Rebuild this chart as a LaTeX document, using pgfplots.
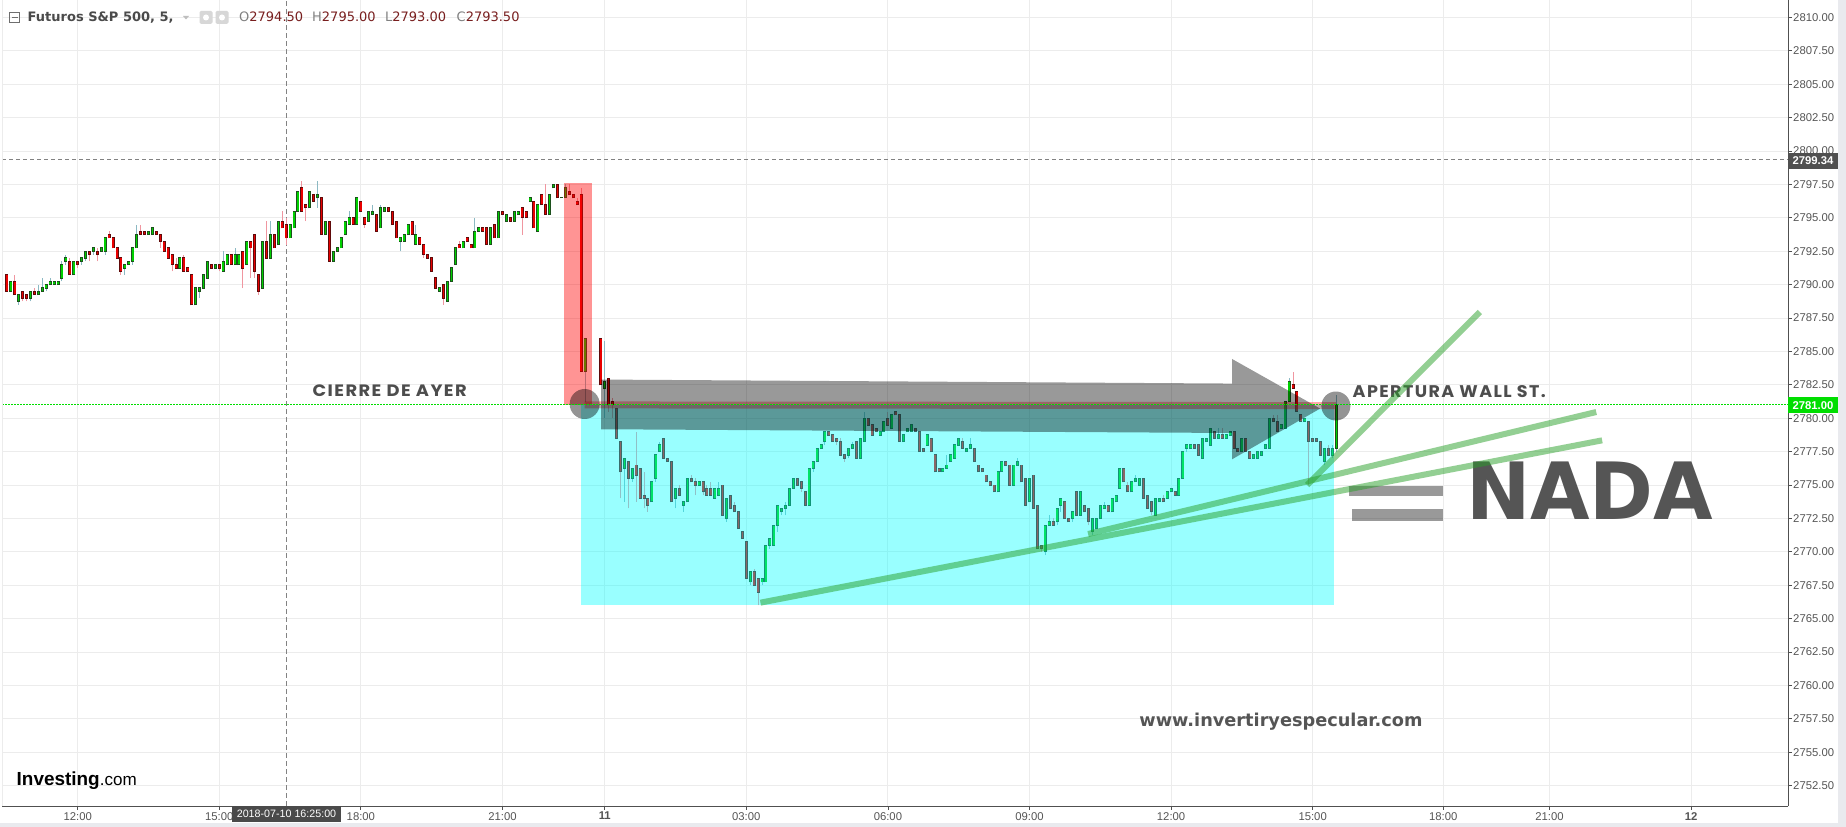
\documentclass[border=0pt]{standalone}
\usepackage{fontspec}
\setmainfont{Liberation Sans}
\newfontfamily\dejavu{DejaVu Sans}
\newfontfamily\popfont[LetterSpace=8]{Poppins}
\usepackage{pgfplots}
\usepackage{pgfplotstable}
\pgfplotsset{compat=1.18}
\definecolor{gridc}{RGB}{236,236,236}
\definecolor{axisc}{RGB}{80,80,80}
\definecolor{labc}{RGB}{85,85,85}
\definecolor{upfill}{RGB}{0,208,0}
\definecolor{upline}{RGB}{28,80,28}
\definecolor{upwick}{RGB}{140,185,195}
\definecolor{dnfill}{RGB}{232,0,0}
\definecolor{dnline}{RGB}{95,10,10}
\definecolor{dnwick}{RGB}{240,150,160}
\definecolor{trend}{RGB}{40,160,40}
\definecolor{lastg}{RGB}{0,222,0}
\definecolor{txtc}{RGB}{77,77,77}
\definecolor{nadac}{RGB}{85,85,85}
\definecolor{strip}{RGB}{233,234,238}
\definecolor{ohlc}{RGB}{120,30,30}
\definecolor{boxdark}{RGB}{80,80,80}
\definecolor{datebox}{RGB}{74,74,74}
\definecolor{iconc}{RGB}{110,110,110}
\definecolor{headc}{RGB}{74,74,74}
\definecolor{lightic}{RGB}{215,215,215}
\definecolor{triac}{RGB}{190,190,190}
\definecolor{wmark}{RGB}{85,85,85}
\definecolor{cyanov}{RGB}{0,255,255}
\definecolor{redov}{RGB}{255,0,0}
\definecolor{blk}{RGB}{0,0,0}
\definecolor{crossc}{RGB}{130,130,130}

\pgfplotstableread{
x o h l c
-18 2790.75 2790.75 2789.50 2789.50
-17 2789.50 2790.25 2789.50 2790.25
-16 2790.25 2790.75 2789.25 2789.25
-15 2788.75 2789.25 2788.50 2789.25
-14 2789.50 2789.50 2788.75 2789.00
-13 2789.25 2789.25 2788.75 2789.00
-12 2789.00 2789.50 2788.75 2789.50
-11 2789.50 2789.75 2789.25 2789.25
-10 2789.25 2790.00 2789.25 2789.50
-9 2789.50 2790.50 2789.50 2789.75
-8 2789.75 2790.00 2789.50 2790.00
-7 2790.00 2790.50 2790.00 2790.25
-6 2790.00 2790.25 2790.00 2790.25
-5 2790.00 2790.25 2790.00 2790.25
-4 2790.50 2791.75 2790.25 2791.50
-3 2791.75 2792.25 2791.50 2792.00
-2 2791.75 2792.00 2790.75 2790.75
-1 2790.75 2791.75 2790.75 2791.75
0 2791.75 2791.75 2791.25 2791.50
1 2791.75 2792.00 2791.50 2792.00
2 2792.00 2792.50 2791.75 2792.50
3 2792.50 2792.50 2791.75 2792.25
4 2792.50 2792.75 2792.25 2792.75
5 2792.50 2792.75 2791.75 2792.25
6 2792.50 2792.75 2792.50 2792.75
7 2792.50 2793.50 2792.25 2793.50
8 2793.75 2794.00 2793.50 2793.50
9 2793.50 2793.50 2792.75 2792.75
10 2792.75 2792.75 2792.00 2792.00
11 2792.00 2792.00 2790.75 2791.00
12 2791.25 2791.50 2790.75 2791.50
13 2791.50 2791.75 2791.50 2791.75
14 2791.75 2792.75 2791.50 2792.75
15 2792.75 2794.50 2792.75 2793.75
16 2794.00 2794.50 2793.75 2793.75
17 2794.00 2794.00 2793.75 2793.75
18 2793.75 2794.00 2793.75 2794.00
19 2793.75 2794.25 2793.75 2794.25
20 2794.00 2794.00 2793.75 2793.75
21 2793.75 2793.75 2792.75 2793.25
22 2793.25 2793.25 2792.50 2792.50
23 2792.75 2792.75 2792.00 2792.00
24 2792.25 2792.25 2791.00 2791.50
25 2791.50 2792.00 2791.25 2791.25
26 2791.25 2792.00 2791.25 2792.00
27 2792.00 2792.25 2791.00 2791.00
28 2791.25 2791.25 2791.00 2791.00
29 2790.75 2790.75 2788.50 2788.50
30 2788.50 2789.75 2788.50 2789.75
31 2789.50 2789.75 2789.00 2789.75
32 2789.75 2790.75 2789.75 2790.75
33 2790.50 2791.75 2790.50 2791.75
34 2791.50 2791.50 2791.25 2791.25
35 2791.25 2791.50 2791.25 2791.50
36 2791.50 2791.50 2791.00 2791.25
37 2791.00 2792.50 2791.00 2791.75
38 2791.50 2792.25 2791.50 2792.25
39 2792.25 2792.25 2791.50 2791.50
40 2791.50 2792.75 2791.50 2792.25
41 2791.50 2792.25 2791.50 2792.25
42 2792.50 2792.50 2789.75 2791.25
43 2791.50 2793.25 2791.50 2793.25
44 2793.25 2793.25 2790.50 2792.75
45 2793.75 2793.75 2790.50 2791.00
46 2790.75 2790.75 2789.25 2789.50
47 2789.75 2793.25 2789.75 2793.25
48 2793.25 2794.75 2792.00 2792.00
49 2792.00 2794.75 2792.00 2793.75
50 2793.75 2793.75 2792.75 2792.75
51 2793.00 2794.75 2793.00 2794.75
52 2794.75 2795.50 2794.25 2794.25
53 2794.50 2795.00 2793.00 2793.50
54 2793.50 2794.50 2793.50 2794.50
55 2794.25 2795.50 2794.25 2795.50
56 2795.50 2797.00 2795.50 2797.00
57 2797.25 2797.75 2795.50 2795.50
58 2796.00 2796.00 2794.75 2795.75
59 2795.75 2797.00 2795.75 2797.00
60 2796.75 2796.75 2796.25 2796.25
61 2796.50 2797.75 2795.75 2796.75
62 2796.50 2796.50 2793.75 2793.75
63 2793.75 2794.75 2793.75 2794.75
64 2794.75 2794.75 2791.75 2791.75
65 2791.75 2792.50 2791.75 2792.50
66 2792.50 2792.75 2792.50 2792.75
67 2792.75 2793.50 2792.75 2793.50
68 2793.75 2794.75 2793.75 2794.75
69 2794.50 2795.50 2794.50 2795.00
70 2795.00 2795.00 2794.50 2794.50
71 2794.50 2796.50 2794.50 2796.50
72 2796.25 2796.25 2795.50 2795.50
73 2795.00 2795.00 2794.25 2794.50
74 2794.75 2795.50 2794.75 2795.50
75 2795.25 2796.00 2795.25 2795.50
76 2795.25 2795.25 2794.00 2794.00
77 2794.25 2796.00 2794.25 2795.75
78 2795.50 2795.75 2795.50 2795.75
79 2795.75 2795.75 2795.50 2795.50
80 2795.50 2795.50 2794.50 2794.50
81 2794.75 2794.75 2793.50 2793.50
82 2793.25 2793.50 2792.50 2793.50
83 2793.25 2793.75 2793.25 2793.75
84 2793.75 2794.50 2793.75 2794.50
85 2794.75 2794.75 2793.75 2793.75
86 2793.00 2794.50 2793.00 2793.75
87 2793.50 2793.50 2793.00 2793.00
88 2793.00 2793.00 2792.00 2792.25
89 2792.25 2792.25 2792.00 2792.00
90 2792.00 2792.00 2791.00 2791.00
91 2790.50 2790.50 2789.75 2789.75
92 2789.50 2789.75 2789.50 2789.75
93 2790.00 2790.00 2788.50 2789.00
94 2788.75 2790.25 2788.75 2790.25
95 2790.25 2791.25 2790.25 2791.25
96 2791.50 2792.75 2791.50 2792.75
97 2793.00 2793.25 2792.75 2792.75
98 2792.75 2793.25 2792.75 2793.25
99 2793.50 2793.50 2793.25 2793.25
100 2793.00 2793.00 2792.75 2792.75
101 2792.75 2795.00 2792.75 2794.00
102 2794.00 2794.25 2794.00 2794.25
103 2794.25 2794.25 2794.00 2794.00
104 2794.25 2794.25 2793.00 2793.00
105 2793.00 2794.25 2793.00 2794.25
106 2794.50 2794.50 2793.50 2793.50
107 2793.50 2795.50 2793.50 2795.50
108 2795.50 2795.50 2795.25 2795.25
109 2794.75 2795.25 2794.75 2795.25
110 2795.00 2795.00 2794.75 2794.75
111 2794.75 2795.50 2794.75 2795.50
112 2795.25 2795.50 2795.25 2795.50
113 2795.75 2795.75 2793.75 2795.00
114 2795.50 2795.50 2795.00 2795.00
115 2796.25 2796.50 2796.25 2796.50
116 2796.25 2796.25 2794.25 2794.25
117 2794.00 2796.00 2794.00 2796.00
118 2796.75 2796.75 2796.00 2796.00
119 2796.00 2797.50 2795.25 2795.25
120 2795.25 2796.75 2795.25 2796.75
121 2797.25 2797.50 2797.25 2797.50
122 2797.50 2797.50 2796.50 2796.50
123 2796.50 2796.50 2796.50 2796.50
124 2796.50 2797.50 2796.50 2797.25
125 2797.00 2797.50 2796.75 2796.75
126 2796.75 2796.75 2796.50 2796.50
127 2796.25 2796.50 2796.00 2796.00
128 2796.75 2797.25 2783.50 2783.50
129 2783.50 2786.00 2781.25 2786.00
133 2786.00 2786.00 2782.50 2782.50
134 2782.25 2785.75 2780.00 2782.75
135 2783.00 2783.00 2780.50 2781.00
136 2781.25 2781.50 2780.00 2781.00
137 2780.75 2780.75 2778.50 2778.50
138 2778.25 2778.25 2774.00 2776.00
139 2776.25 2777.00 2773.75 2777.00
140 2776.75 2776.75 2773.25 2775.50
141 2775.50 2776.25 2775.25 2776.25
142 2776.50 2779.00 2773.75 2775.75
143 2776.25 2776.25 2774.00 2774.00
144 2774.25 2776.00 2773.25 2774.00
145 2774.00 2774.00 2773.00 2773.50
146 2773.75 2775.25 2773.75 2775.25
147 2775.50 2777.25 2775.25 2777.25
148 2777.50 2778.25 2777.50 2778.00
149 2778.50 2778.50 2777.00 2777.00
150 2777.00 2777.00 2776.75 2776.75
151 2776.75 2776.75 2773.75 2773.75
152 2774.00 2774.75 2773.25 2774.75
153 2774.75 2775.00 2774.25 2774.25
154 2773.50 2773.75 2773.00 2773.75
155 2773.75 2775.50 2773.75 2775.50
156 2775.50 2775.75 2775.25 2775.25
157 2775.25 2775.50 2774.25 2775.00
158 2775.00 2775.25 2775.00 2775.25
159 2775.25 2775.25 2774.25 2774.50
160 2774.75 2775.00 2774.25 2774.25
161 2774.75 2775.25 2774.25 2774.25
162 2774.00 2774.75 2774.00 2774.75
163 2774.25 2775.25 2774.25 2774.75
164 2775.00 2775.00 2772.75 2772.75
165 2772.50 2774.00 2772.25 2774.00
166 2774.25 2774.25 2773.25 2773.25
167 2773.50 2773.75 2773.00 2773.00
168 2773.00 2773.00 2771.75 2771.75
169 2771.50 2771.50 2771.00 2771.00
170 2770.75 2770.75 2768.00 2768.00
171 2767.75 2768.50 2767.50 2768.50
172 2768.50 2768.75 2767.50 2767.50
173 2768.00 2768.00 2766.00 2767.00
174 2767.75 2768.00 2767.50 2768.00
175 2767.75 2770.50 2767.75 2770.50
176 2770.50 2771.00 2770.25 2771.00
177 2770.50 2772.00 2770.50 2772.00
178 2772.00 2773.50 2771.50 2773.50
179 2773.00 2773.25 2772.75 2773.25
180 2773.25 2773.75 2772.75 2773.50
181 2773.50 2774.75 2773.50 2774.75
182 2774.75 2775.50 2774.75 2775.50
183 2775.50 2775.50 2775.00 2775.00
184 2775.25 2775.25 2774.50 2774.75
185 2774.50 2774.50 2773.50 2773.50
186 2773.50 2776.25 2773.50 2776.25
187 2776.25 2776.75 2776.00 2776.75
188 2776.75 2777.75 2776.75 2777.75
189 2777.75 2778.00 2777.75 2778.00
190 2778.25 2779.00 2778.00 2779.00
191 2779.00 2779.00 2778.75 2778.75
192 2778.75 2778.75 2778.25 2778.25
193 2778.50 2778.50 2778.00 2778.25
194 2778.25 2778.50 2777.25 2777.25
195 2777.25 2777.25 2776.75 2777.00
196 2777.25 2777.75 2777.00 2777.75
197 2777.75 2778.25 2777.75 2778.00
198 2778.25 2778.25 2777.00 2777.00
199 2777.00 2778.50 2777.00 2778.50
200 2778.25 2780.50 2778.25 2780.00
201 2780.00 2780.00 2779.50 2779.50
202 2779.50 2779.50 2778.75 2778.75
203 2779.25 2779.25 2779.00 2779.00
204 2778.75 2779.00 2778.75 2779.00
205 2779.00 2779.75 2779.00 2779.75
206 2780.00 2780.50 2779.50 2779.50
207 2779.25 2780.25 2779.25 2780.25
208 2780.50 2780.50 2780.25 2780.25
209 2780.25 2780.25 2778.25 2778.25
210 2778.25 2778.75 2778.25 2778.75
211 2779.00 2779.25 2779.00 2779.25
212 2779.00 2779.50 2779.00 2779.50
213 2779.25 2779.25 2779.00 2779.00
214 2779.00 2779.00 2777.50 2777.50
215 2777.75 2777.75 2777.50 2777.50
216 2778.00 2778.75 2778.00 2778.75
217 2778.50 2778.50 2777.50 2777.50
218 2777.25 2777.25 2776.00 2776.00
219 2776.25 2776.25 2776.00 2776.00
220 2776.00 2776.25 2776.00 2776.25
221 2776.25 2777.25 2776.25 2776.50
222 2776.75 2777.25 2776.75 2777.25
223 2777.00 2778.00 2777.00 2778.00
224 2778.00 2778.50 2778.00 2778.50
225 2778.25 2778.50 2777.75 2777.75
226 2777.50 2777.75 2777.50 2777.75
227 2777.75 2778.50 2777.75 2778.00
228 2777.75 2777.75 2776.75 2776.75
229 2776.50 2776.50 2776.00 2776.00
230 2776.25 2776.25 2776.00 2776.00
231 2775.75 2775.75 2775.25 2775.25
232 2775.25 2775.25 2775.00 2775.00
233 2775.00 2775.00 2774.50 2774.50
234 2774.50 2776.00 2774.50 2776.00
235 2776.00 2776.75 2776.00 2776.75
236 2776.75 2776.75 2776.50 2776.50
237 2776.50 2776.50 2775.00 2775.00
238 2775.00 2776.50 2775.00 2776.50
239 2776.50 2777.00 2776.50 2776.75
240 2776.50 2776.50 2775.25 2775.25
241 2775.50 2775.50 2773.50 2773.50
242 2773.75 2775.50 2773.75 2775.50
243 2775.75 2775.75 2773.25 2773.25
244 2773.50 2773.50 2770.25 2770.25
245 2770.50 2770.50 2770.00 2770.25
246 2770.00 2772.00 2769.75 2772.00
247 2772.00 2772.75 2772.00 2772.25
248 2772.25 2772.50 2772.00 2772.00
249 2772.25 2773.25 2772.00 2773.25
250 2773.50 2774.00 2773.00 2774.00
251 2773.75 2773.75 2772.50 2772.50
252 2772.50 2772.50 2772.25 2772.25
253 2772.50 2773.00 2772.25 2773.00
254 2774.50 2774.50 2772.75 2772.75
255 2772.75 2774.50 2772.75 2774.50
256 2773.50 2773.50 2773.00 2773.00
257 2773.25 2773.25 2772.00 2772.25
258 2771.50 2772.50 2771.25 2772.50
259 2771.75 2772.50 2771.75 2772.50
260 2772.50 2773.50 2772.50 2773.50
261 2773.25 2773.75 2773.25 2773.50
262 2773.50 2773.50 2773.00 2773.00
263 2773.00 2774.00 2773.00 2774.00
264 2773.75 2774.25 2773.75 2774.25
265 2774.75 2776.25 2774.75 2776.25
266 2776.25 2776.25 2775.25 2775.25
267 2775.00 2775.25 2774.50 2774.50
268 2774.50 2775.25 2774.50 2775.25
269 2775.25 2775.75 2775.25 2775.50
270 2775.00 2775.50 2775.00 2775.50
271 2775.50 2775.50 2774.00 2774.00
272 2774.25 2774.25 2773.25 2773.25
273 2773.75 2773.75 2772.75 2773.00
274 2772.75 2774.00 2772.75 2774.00
275 2773.75 2774.00 2773.75 2774.00
276 2774.00 2774.25 2773.75 2773.75
277 2774.00 2774.50 2774.00 2774.50
278 2774.50 2774.75 2774.50 2774.75
279 2774.50 2774.50 2774.25 2774.25
280 2774.25 2775.50 2774.25 2775.50
281 2775.50 2777.50 2775.50 2777.50
282 2777.75 2778.00 2777.50 2778.00
283 2777.75 2778.00 2777.75 2778.00
284 2778.00 2778.00 2777.75 2777.75
285 2778.00 2778.00 2777.25 2777.25
286 2777.00 2778.50 2777.00 2778.50
287 2778.25 2778.50 2778.25 2778.50
288 2778.00 2779.25 2778.00 2779.25
289 2779.00 2779.00 2778.50 2778.50
290 2778.50 2779.25 2778.50 2778.75
291 2778.75 2779.25 2778.50 2778.50
292 2778.50 2778.75 2778.50 2778.75
293 2778.75 2779.00 2778.75 2779.00
294 2779.00 2779.00 2777.75 2777.75
295 2777.75 2777.75 2777.50 2777.50
296 2777.50 2778.50 2777.50 2778.50
297 2778.50 2778.50 2777.50 2777.50
298 2777.50 2777.50 2777.00 2777.00
299 2777.00 2777.25 2777.00 2777.25
300 2777.00 2777.50 2777.00 2777.50
301 2777.25 2777.50 2777.25 2777.50
302 2777.75 2778.00 2777.75 2778.00
303 2777.75 2780.00 2777.75 2780.00
304 2780.00 2780.25 2779.75 2779.75
305 2779.75 2780.25 2779.00 2779.00
306 2779.25 2779.50 2779.25 2779.50
307 2779.25 2781.25 2779.25 2781.25
308 2781.25 2783.00 2781.25 2782.75
309 2782.50 2783.50 2782.25 2782.25
310 2782.00 2782.00 2780.50 2780.50
311 2780.25 2780.25 2779.75 2779.75
312 2779.75 2780.00 2779.75 2780.00
313 2779.75 2779.75 2775.00 2778.25
314 2778.50 2778.50 2778.25 2778.25
315 2778.50 2778.50 2778.25 2778.25
316 2778.25 2778.25 2777.25 2777.25
317 2776.75 2777.75 2776.50 2777.75
318 2777.75 2778.00 2777.25 2777.25
319 2777.25 2778.00 2777.00 2777.75
320 2777.75 2781.75 2777.50 2781.00
}\candles

\begin{document}
\begin{tikzpicture}
% background
\fill[white] (0,0) rectangle (1846bp,827bp);
\fill[strip] (1838bp,0) rectangle (1846bp,827bp);
\fill[strip] (0,0) rectangle (1846bp,4bp);

\begin{axis}[
  at={(2bp,21bp)}, anchor=south west,
  scale only axis, width=1786bp, height=806bp,
  xmin=-19.247, xmax=434.86, ymin=2750.98, ymax=2811.31,
  axis x line*=bottom, axis y line*=right,
  axis line style={color=axisc, line width=1bp},
  tick align=outside, major tick length=4bp,
  tick style={color=axisc, line width=0.8bp},
  xtick={0,36,72,108,134,170,206,242,278,314,347.2,374.2,410.2},
  xticklabels={12:00,15:00,18:00,21:00,\textbf{11},03:00,06:00,09:00,12:00,15:00,18:00,21:00,\textbf{12}},
  ytick={2752.5,2755,2757.5,2760,2762.5,2765,2767.5,2770,2772.5,2775,2777.5,2780,2782.5,2785,2787.5,2790,2792.5,2795,2797.5,2800,2802.5,2805,2807.5,2810},
  yticklabel={\pgfmathprintnumber[fixed,fixed zerofill,precision=2,1000 sep={}]{\tick}},
  /pgf/number format/assume math mode=true,
  ticklabel style={font=\fontsize{11.3bp}{13bp}\selectfont, text=labc},
  yticklabel style={anchor=west, inner sep=0pt, xshift=1bp},
  xticklabel style={anchor=north, inner sep=0pt, yshift=-2bp},
  grid=major, major grid style={color=gridc, line width=1bp},
]
% crosshair
\draw[color=crossc, line width=0.9bp, dash pattern=on 4bp off 3bp] (axis cs:-19.247,2799.34) -- (axis cs:434.86,2799.34);
\draw[color=crossc, line width=0.9bp, dash pattern=on 5bp off 3bp] (axis cs:53,2750.98) -- (axis cs:53,2811.31);

% wicks
\addplot[forget plot, draw=none, mark=none,
  restrict expr to domain={\thisrow{c}-\thisrow{o}}{0:1000},
  error bars/.cd, y dir=plus, y explicit, error mark=none,
  error bar style={draw=upwick, line width=1bp}]
  table[x=x, y=l, y error expr={\thisrow{h}-\thisrow{l}}] {\candles};
\addplot[forget plot, draw=none, mark=none,
  restrict expr to domain={\thisrow{c}-\thisrow{o}}{-1000:-0.001},
  error bars/.cd, y dir=plus, y explicit, error mark=none,
  error bar style={draw=dnwick, line width=1bp}]
  table[x=x, y=l, y error expr={\thisrow{h}-\thisrow{l}}] {\candles};
% bodies outline
\addplot[forget plot, draw=none, mark=none,
  restrict expr to domain={\thisrow{c}-\thisrow{o}}{0:1000},
  error bars/.cd, y dir=plus, y explicit, error mark=none,
  error bar style={draw=upline, line width=3bp}]
  table[x=x, y expr={min(\thisrow{o},\thisrow{c})-0.04}, y error expr={abs(\thisrow{c}-\thisrow{o})+0.08}] {\candles};
\addplot[forget plot, draw=none, mark=none,
  restrict expr to domain={\thisrow{c}-\thisrow{o}}{-1000:-0.001},
  error bars/.cd, y dir=plus, y explicit, error mark=none,
  error bar style={draw=dnline, line width=3bp}]
  table[x=x, y expr={min(\thisrow{o},\thisrow{c})-0.04}, y error expr={abs(\thisrow{c}-\thisrow{o})+0.08}] {\candles};
% bodies fill
\addplot[forget plot, draw=none, mark=none,
  restrict expr to domain={\thisrow{c}-\thisrow{o}}{0.1:1000},
  error bars/.cd, y dir=plus, y explicit, error mark=none,
  error bar style={draw=upfill, line width=1.5bp}]
  table[x=x, y expr={min(\thisrow{o},\thisrow{c})+0.03}, y error expr={abs(\thisrow{c}-\thisrow{o})-0.06}] {\candles};
\addplot[forget plot, draw=none, mark=none,
  restrict expr to domain={\thisrow{c}-\thisrow{o}}{-1000:-0.1},
  error bars/.cd, y dir=plus, y explicit, error mark=none,
  error bar style={draw=dnfill, line width=1.5bp}]
  table[x=x, y expr={min(\thisrow{o},\thisrow{c})+0.03}, y error expr={abs(\thisrow{c}-\thisrow{o})-0.06}] {\candles};

% drawings
\fill[redov, fill opacity=0.42] (axis cs:123.6,2781.0) rectangle (axis cs:130.8,2797.6);
\fill[cyanov, fill opacity=0.4] (axis cs:127.9,2766.0) rectangle (axis cs:319.3,2781.0);
\draw[redov, line width=7bp, opacity=0.33] (axis cs:128.9,2781.0) -- (axis cs:319.9,2780.95);
\fill[blk, fill opacity=0.4] (axis cs:133.06,2782.90) -- (axis cs:293.5,2782.60) -- (axis cs:293.5,2784.44) -- (axis cs:315.9,2780.73) -- (axis cs:293.5,2776.93) -- (axis cs:293.5,2778.90) -- (axis cs:133.06,2779.18) -- cycle;
\fill[blk, fill opacity=0.42] (axis cs:128.9,2781.07) circle[radius=15bp];
\fill[blk, fill opacity=0.42] (axis cs:319.9,2780.92) circle[radius=14.5bp];

\node[text=txtc, inner sep=0pt] at (axis cs:79.33,2782.03) {\resizebox{154bp}{11.7bp}{\popfont\bfseries CIERRE DE AYER}};
\node[text=txtc, inner sep=0pt] at (axis cs:348.72,2781.97) {\resizebox{193bp}{12bp}{\popfont\bfseries APERTURA WALL ST.}};

\node[text=nadac, inner sep=0pt] at (axis cs:384.44,2774.60) {\resizebox{247.3bp}{57.6bp}{\dejavu\bfseries NADA}};
\fill[blk, fill opacity=0.4] (axis cs:323.32,2774.18) rectangle (axis cs:347.22,2774.93);
\fill[blk, fill opacity=0.4] (axis cs:324.08,2772.31) rectangle (axis cs:347.22,2773.21);

\draw[trend, line width=6bp, opacity=0.5] (axis cs:173.6,2766.20) -- (axis cs:387.6,2778.35);
\draw[trend, line width=6bp, opacity=0.5] (axis cs:256.9,2771.34) -- (axis cs:386.1,2780.47);
\draw[trend, line width=6bp, opacity=0.5] (axis cs:312.6,2775.01) -- (axis cs:356.5,2787.96);

\draw[lastg, line width=1bp, dash pattern=on 1.5bp off 1.5bp] (axis cs:-19.247,2781) -- (axis cs:434.86,2781);
\end{axis}

\begin{scope}[x=1bp, y=-1bp, yshift=827bp]
% left border
\draw[color=gridc, line width=1bp] (2,0) -- (2,806);
% price labels
\fill[boxdark] (1788,153) rectangle (1838,169);
\node[text=white, inner sep=0pt] at (1813,161) {\fontsize{11.3bp}{13bp}\selectfont\bfseries 2799.34};
\fill[lastg] (1788,397.3) rectangle (1838,413.3);
\node[text=white, inner sep=0pt] at (1813,405.3) {\fontsize{11.3bp}{13bp}\selectfont\bfseries 2781.00};
% date label
\fill[datebox] (232,806) rectangle (341,822);
\node[text=white, inner sep=0pt] at (286.5,814) {\fontsize{10.7bp}{12bp}\selectfont 2018-07-10 16:25:00};
% header
\draw[color=iconc, line width=1bp] (9.5,12.5) rectangle (19.5,22.5);
\draw[color=iconc, line width=1bp] (11.5,17.5) -- (17.5,17.5);
\node[anchor=base west, inner sep=0pt, text=headc] at (27.5,22) {\fontsize{13bp}{15bp}\selectfont\dejavu\bfseries Futuros S\&P 500, 5,};
\fill[triac] (183,16) -- (189,16) -- (186,19.5) -- cycle;
\fill[lightic, rounded corners=1.5bp] (199.5,11) rectangle (212.5,24);
\fill[white] (206,17.5) circle[radius=3bp];
\fill[lightic, rounded corners=1.5bp] (215.5,11) rectangle (228.5,24);
\fill[white] (222,17.5) circle[radius=3bp];
\node[anchor=base west, inner sep=0pt] at (239,22) {\fontsize{13bp}{15bp}\selectfont\dejavu\textcolor{gray}{O}\textcolor{ohlc}{2794.50}};
\node[anchor=base west, inner sep=0pt] at (312,22) {\fontsize{13bp}{15bp}\selectfont\dejavu\textcolor{gray}{H}\textcolor{ohlc}{2795.00}};
\node[anchor=base west, inner sep=0pt] at (385,22) {\fontsize{13bp}{15bp}\selectfont\dejavu\textcolor{gray}{L}\textcolor{ohlc}{2793.00}};
\node[anchor=base west, inner sep=0pt] at (456.5,22) {\fontsize{13bp}{15bp}\selectfont\dejavu\textcolor{gray}{C}\textcolor{ohlc}{2793.50}};
% watermark
\node[anchor=base, inner sep=0pt, text=wmark] at (1281,726.7) {\resizebox{283bp}{!}{\dejavu\bfseries www.invertiryespecular.com}};
% investing logo
\node[anchor=west, inner sep=0pt] at (16.5,781) {\resizebox{120bp}{!}{\bfseries Investing\mdseries{\fontsize{9}{10}\selectfont .com}}};
\end{scope}
\pgfresetboundingbox
\path[use as bounding box] (0,0) rectangle (1846bp,827bp);
\end{tikzpicture}
\end{document}
